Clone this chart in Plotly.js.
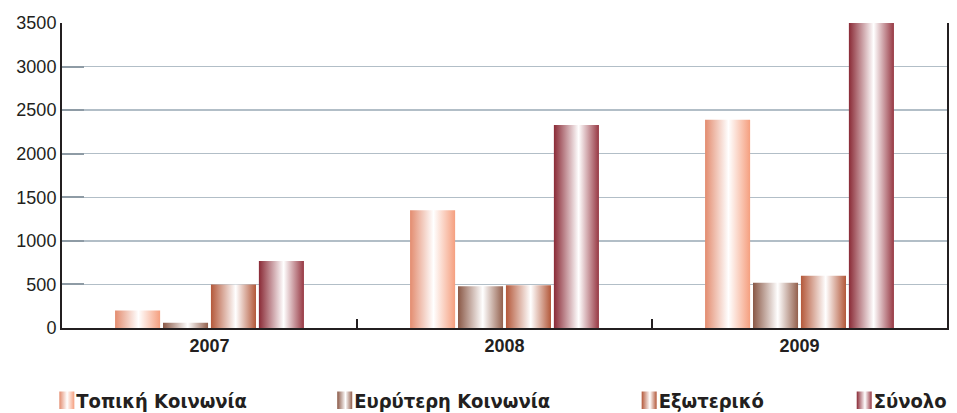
<!DOCTYPE html>
<html>
<head>
<meta charset="utf-8">
<script src="https://cdn.plot.ly/plotly-3.0.1.min.js"></script>
<style>
html,body{margin:0;padding:0;background:#fff;}
#chart{width:957px;height:413px;}
#chart .legendtext{font-weight:bold !important;}
</style>
</head>
<body>
<div id="chart"></div>
<script>
// ---- data ----
const categories = ['2007', '2008', '2009'];
const seriesNames = ['Τοπική Κοινωνία', 'Ευρύτερη Κοινωνία', 'Εξωτερικό', 'Σύνολο'];
const topiki    = [200, 1350, 2390];
const evryteri  = [60, 480, 520];
const exoteriko = [500, 490, 600];
const synolo    = [770, 2330, 3500];
const yTicks = [0, 500, 1000, 1500, 2000, 2500, 3000, 3500];

// ---- styles ----
const baseColors = ['#ec9a7c', '#9a6a58', '#c0694b', '#9e3c48'];
const gradStops = [
  [['0', '#e38c6f'], ['0.52', '#ffffff'], ['1', '#f59f7f']],
  [['0', '#8a5846'], ['0.55', '#ffffff'], ['1', '#93604d']],
  [['0', '#b4583a'], ['0.55', '#ffffff'], ['1', '#b3583a']],
  [['0', '#8a2a36'], ['0.55', '#ffffff'], ['1', '#973843']]
];
const legendNames = ['legend', 'legend2', 'legend3', 'legend4'];
const legendX = [-0.029, 0.285, 0.629, 0.872];

const values = [topiki, evryteri, exoteriko, synolo];
const traces = values.map((v, i) => ({
  type: 'bar',
  name: seriesNames[i],
  x: categories,
  y: v,
  marker: {color: baseColors[i], line: {width: 0}},
  legend: legendNames[i],
  hoverinfo: 'none'
}));

const legendFont = {family: '"DejaVu Sans Condensed", "Liberation Sans", Arial, sans-serif', size: 20, color: '#231f20', weight: 'bold'};
const layout = {
  width: 957,
  height: 413,
  margin: {l: 62, r: 10, t: 23, b: 85, autoexpand: false},
  paper_bgcolor: '#ffffff',
  plot_bgcolor: '#ffffff',
  barmode: 'group',
  bargap: 0.35,
  bargroupgap: 0.06,
  font: {family: '"Liberation Sans", Arial, sans-serif', color: '#231f20'},
  xaxis: {
    type: 'category',
    showline: true, linecolor: '#231f20', linewidth: 2,
    ticks: 'inside', tickson: 'boundaries', ticklen: 9, tickwidth: 2, tickcolor: '#231f20',
    tickfont: {size: 18, weight: 'bold', color: '#231f20'},
    ticklabelstandoff: 0,
    showgrid: false, zeroline: false, fixedrange: true
  },
  yaxis: {
    range: [0, 3500],
    tickvals: yTicks,
    ticktext: yTicks.map(String),
    showline: true, mirror: true, linecolor: '#231f20', linewidth: 2,
    ticks: 'inside', ticklen: 22, tickwidth: 2, tickcolor: '#8e9ba5',
    ticklabelstandoff: 0,
    tickfont: {size: 18, color: '#231f20'},
    showgrid: true, gridcolor: '#b2bec7', gridwidth: 1.5,
    zeroline: false, fixedrange: true
  },
  showlegend: true
};
legendNames.forEach((ln, i) => {
  layout[ln] = {
    x: legendX[i], xanchor: 'left',
    y: 0.078, yref: 'container', yanchor: 'top',
    orientation: 'h',
    bgcolor: 'rgba(0,0,0,0)',
    font: legendFont,
    itemclick: false, itemdoubleclick: false
  };
});

Plotly.newPlot('chart', traces, layout, {staticPlot: true, displayModeBar: false}).then(gd => {
  const svg = gd.querySelector('svg.main-svg');
  const NS = 'http://www.w3.org/2000/svg';
  let defs = svg.querySelector('defs');
  if (!defs) { defs = document.createElementNS(NS, 'defs'); svg.insertBefore(defs, svg.firstChild); }
  gradStops.forEach((stops, i) => {
    const g = document.createElementNS(NS, 'linearGradient');
    g.setAttribute('id', 'barGrad' + i);
    g.setAttribute('x1', '0'); g.setAttribute('x2', '1');
    g.setAttribute('y1', '0'); g.setAttribute('y2', '0');
    stops.forEach(s => {
      const st = document.createElementNS(NS, 'stop');
      st.setAttribute('offset', s[0]);
      st.setAttribute('stop-color', s[1]);
      g.appendChild(st);
    });
    defs.appendChild(g);
  });
  const barTraces = gd.querySelectorAll('.barlayer .trace.bars');
  barTraces.forEach((t, i) => {
    t.querySelectorAll('.point path').forEach(p => { p.style.fill = 'url(#barGrad' + i + ')'; });
  });
  legendNames.forEach((ln, i) => {
    const lg = gd.querySelector('.' + ln);
    if (!lg) return;
    lg.querySelectorAll('.legendpoints path').forEach(p => {
      p.style.fill = 'url(#barGrad' + i + ')';
      p.style.stroke = 'none';
      const prev = p.getAttribute('transform') || '';
      p.setAttribute('transform', prev + ' translate(10.5,0) scale(1.25,1.45)');
    });
    lg.querySelectorAll('text.legendtext').forEach(t => {
      t.style.fontWeight = 'bold';
      t.setAttribute('font-weight', 'bold');
    });
  });
});
</script>
</body>
</html>
